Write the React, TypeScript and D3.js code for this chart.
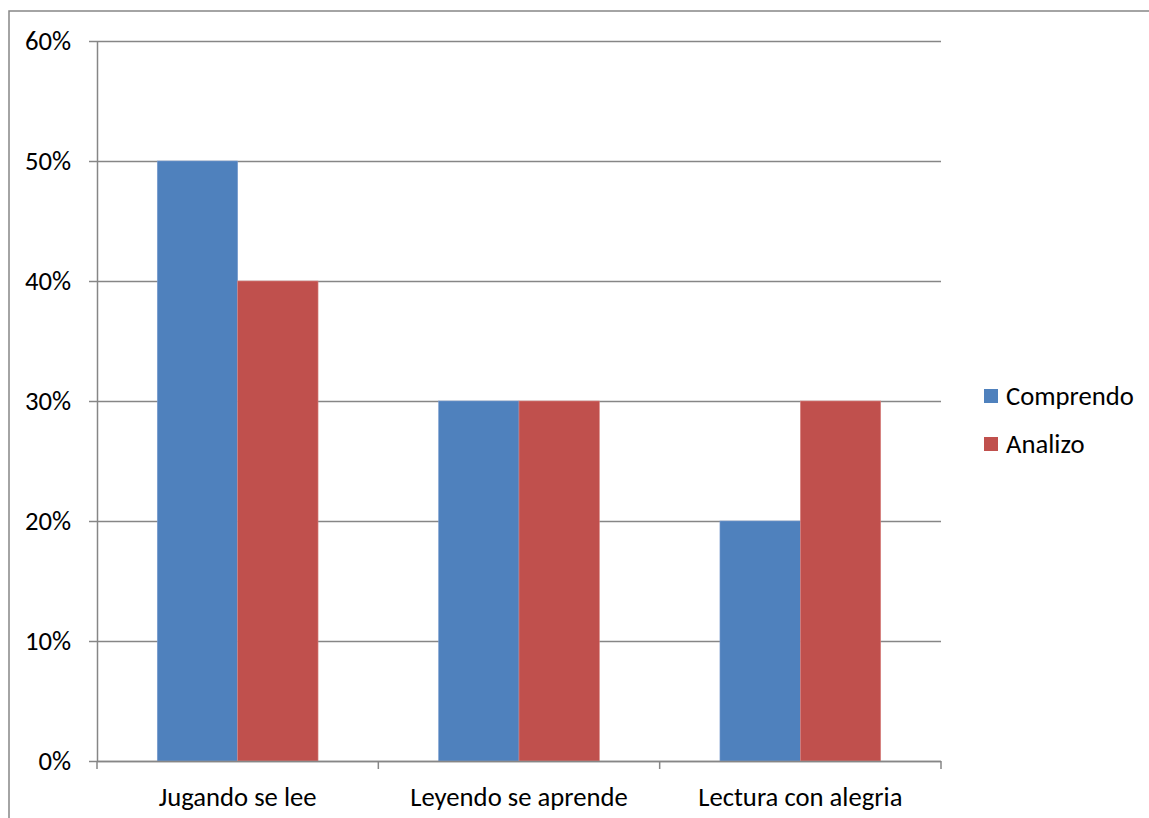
import React from "react";
import * as d3 from "d3";

const categories = ["Jugando se lee", "Leyendo se aprende", "Lectura con alegria"];
const seriesNames = ["Comprendo", "Analizo"];
const comprendo = [0.5, 0.3, 0.2];
const analizo = [0.4, 0.3, 0.3];
const yTicks = [0, 0.1, 0.2, 0.3, 0.4, 0.5, 0.6];
const colors = ["#4F81BD", "#C0504D"];

const W = 1149, H = 818;
const left = 97, right = 941, top = 41, bottom = 761;
const FONT = "Carlito, Calibri, 'Open Sans', sans-serif";
const FS = 26.67;

export default function App() {
  const x = d3.scaleBand<string>().domain(categories).range([left, right]).paddingInner(0).paddingOuter(0);
  const y = d3.scaleLinear().domain([0, 0.6]).range([bottom, top]);
  const inner = d3.scaleBand<string>().domain(seriesNames).range([0, x.bandwidth()]).paddingInner(0).paddingOuter(0.75);
  const series = [comprendo, analizo];
  const fmt = d3.format(".0%");
  const catEdges = [...categories.map((c) => x(c)!), right];
  return (
    <svg width={W} height={H} style={{ position: "absolute", left: 0, top: 0, fontFamily: FONT }}>
      <rect x={0} y={0} width={W} height={H} fill="#fff" />
      <rect x={9} y={11} width={W + 20} height={H + 20} fill="none" stroke="#868686" strokeWidth={1.5} />
      {yTicks.map((t) => (
        <g key={t}>
          <line x1={left - 8} x2={right} y1={Math.round(y(t)) + 0.5} y2={Math.round(y(t)) + 0.5} stroke="#868686" strokeWidth={1.5} />
          <text x={71} y={y(t)} dy="0.35em" textAnchor="end" fontSize={FS} fill="#000">{fmt(t)}</text>
        </g>
      ))}
      {series.map((vals, si) =>
        categories.map((c, ci) => (
          <rect key={`${si}-${ci}`} x={x(c)! + inner(seriesNames[si])!} y={y(vals[ci])} width={inner.bandwidth()} height={bottom - y(vals[ci])} fill={colors[si]} stroke={si === 0 ? "#7A9CCF" : "#D98683"} strokeWidth={0.6} />
        ))
      )}
      <line x1={left + 0.5} x2={left + 0.5} y1={top} y2={bottom} stroke="#868686" strokeWidth={1.5} />
      <line x1={left} x2={right} y1={bottom + 0.5} y2={bottom + 0.5} stroke="#868686" strokeWidth={1.5} />
      {catEdges.map((e, i) => (
        <line key={i} x1={e} x2={e} y1={bottom} y2={bottom + 8} stroke="#868686" strokeWidth={1.5} />
      ))}
      {categories.map((c) => (
        <text key={c} x={x(c)! + x.bandwidth() / 2} y={797} dy="0.35em" textAnchor="middle" fontSize={FS} fill="#000">{c}</text>
      ))}
      {seriesNames.map((s, i) => (
        <g key={s}>
          <rect x={984} y={389 + i * 48} width={14} height={14} fill={colors[i]} />
          <text x={1006} y={396 + i * 48} dy="0.35em" fontSize={FS} fill="#000">{s}</text>
        </g>
      ))}
    </svg>
  );
}
